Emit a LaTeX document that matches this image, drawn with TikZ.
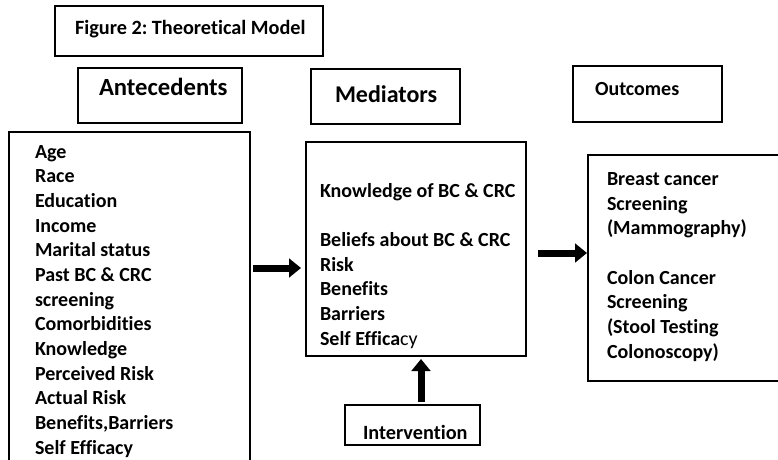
\documentclass[tikz,border=0pt]{standalone}
\usepackage{fontspec}
\setmainfont{Carlito}[Ligatures=CommonOff]
\usetikzlibrary{arrows.meta}
\frenchspacing

\tikzset{
  frame/.style={draw=black, line width=0.8pt, anchor=north west},
  caption/.style={anchor=base west, font=\bfseries\fontsize{#1}{#1}\selectfont},
  items/.style={anchor=base west, align=left, font=\bfseries\fontsize{15}{18.5}\selectfont},
  fatarrow/.style={line width=5.25pt, -{Triangle[width=14pt,length=9pt]}}
}

\begin{document}
\begin{tikzpicture}[y=0.75pt, x=0.75pt, yscale=-1, inner sep=0pt, outer sep=0pt]
  \useasboundingbox (0,0) rectangle (778,460);
  % boxes
  \node[frame, minimum width=201pt, minimum height=37.5pt] (titlebox) at (55,6) {};
  \node[frame, minimum width=123pt, minimum height=41.25pt] (antehead) at (78,68) {};
  \node[frame, minimum width=111.75pt, minimum height=41.25pt] (medhead) at (311,69) {};
  \node[frame, minimum width=111.75pt, minimum height=42pt] (outhead) at (573,66) {};
  \node[frame, minimum width=180.75pt, minimum height=253.5pt] (antelist) at (9,132) {};
  \node[frame, minimum width=165pt, minimum height=160.5pt] (medlist) at (306,142) {};
  \node[frame, minimum width=144pt, minimum height=169.5pt] (outlist) at (588,155) {};
  \node[frame, minimum width=101.25pt, minimum height=30pt] (intbox) at (345,405) {};
  % headings
  \node[caption=15.2] (titletext) at (75,35) {Figure 2: Theoretical Model};
  \node[caption=18.5] (antetext) at (99,95) {Antecedents};
  \node[caption=18] (medtext) at (335,103) {Mediators};
  \node[caption=15] (outtext) at (595,95) {Outcomes};
  \node[caption=15.2] (inttext) at (363,439) {Intervention};
  % lists (anchored on the last baseline)
  \node[items] (anteitems) at (35,454) {Age\\Race\\Education\\Income\\Marital status\\Past BC \& CRC\\screening\\Comorbidities\\Knowledge\\Perceived Risk\\Actual Risk\\Benefits,Barriers\\Self Efficacy};
  \node[items] (meditems) at (320,345) {Knowledge of BC \& CRC\\[18.5pt]Beliefs about BC \& CRC\\Risk\\Benefits\\Barriers\\Self Effica{\mdseries cy}};
  \node[items] (outitems) at (607,358) {Breast cancer\\Screening\\(Mammography)\\[18.5pt]Colon Cancer\\Screening\\(Stool Testing\\Colonoscopy)};
  % arrows
  \coordinate (arrA) at (0,268);
  \coordinate (arrB) at (0,253);
  \coordinate (arrC) at (421,0);
  \draw[fatarrow, shorten <=2.25pt, shorten >=3.75pt] (antelist.east |- arrA) -- (medlist.west |- arrA);
  \draw[fatarrow, shorten <=9pt, shorten >=0.75pt] (medlist.east |- arrB) -- (outlist.west |- arrB);
  \draw[fatarrow, shorten <=2.25pt, shorten >=2.25pt] (intbox.north -| arrC) -- (medlist.south -| arrC);
\end{tikzpicture}
\end{document}
